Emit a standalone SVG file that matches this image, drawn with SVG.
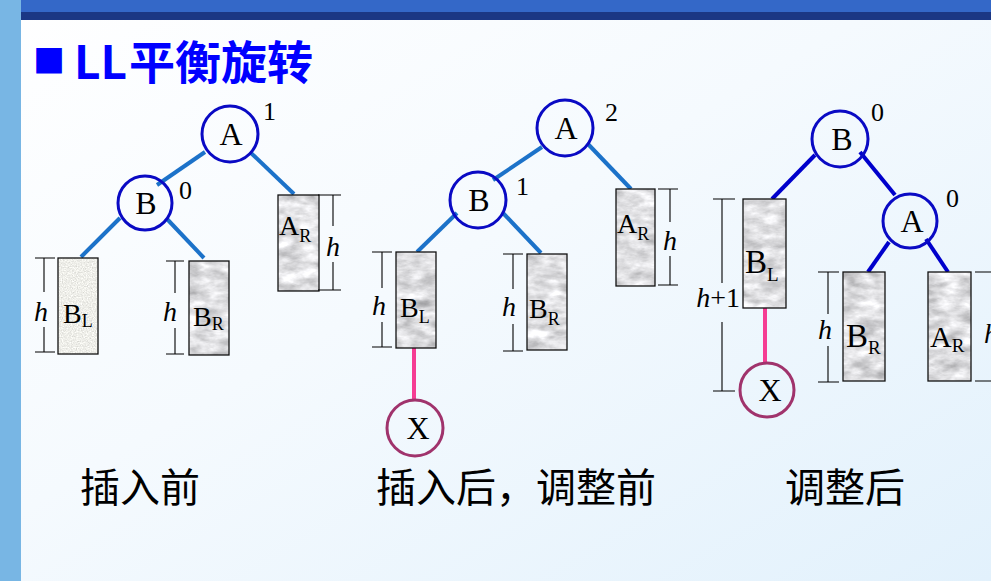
<svg xmlns="http://www.w3.org/2000/svg" width="991" height="581" viewBox="0 0 991 581">
<defs>
<linearGradient id="bg" x1="0" y1="0" x2="1" y2="1">
<stop offset="0" stop-color="#ffffff"/>
<stop offset="0.45" stop-color="#f5fafe"/>
<stop offset="1" stop-color="#e2f1fc"/>
</linearGradient>
<filter id="marble" x="0" y="0" width="1" height="1" color-interpolation-filters="sRGB">
<feTurbulence type="fractalNoise" baseFrequency="0.05 0.1" numOctaves="4" seed="4"/>
<feColorMatrix type="matrix" values="0.32 0.32 0.2 0 0.45  0.32 0.32 0.2 0 0.45  0.32 0.32 0.2 0 0.46  0 0 0 0 1"/>
<feComposite in2="SourceGraphic" operator="in"/>
</filter>
<filter id="speckle" x="0" y="0" width="1" height="1" color-interpolation-filters="sRGB">
<feTurbulence type="fractalNoise" baseFrequency="0.8" numOctaves="2" seed="9"/>
<feColorMatrix type="matrix" values="0.2 0.15 0.1 0 0.71  0.2 0.15 0.1 0 0.71  0.2 0.15 0.1 0 0.69  0 0 0 0 1"/>
<feComposite in2="SourceGraphic" operator="in"/>
</filter>
<style>
.node{fill:none;stroke:#0a0ac4;stroke-width:3}
.xnode{fill:none;stroke:#a0336c;stroke-width:3}
.lt{font-family:"Liberation Serif","Times New Roman",serif;fill:#000}
.big{font-size:32px}
.bf{font-size:26px}
.sub{font-size:28px}
.sub3{font-size:33px}
.s{font-size:18px}
.s3{font-size:19px}
.hh{font-family:"Liberation Serif","Times New Roman",serif;font-style:italic;font-size:28px;fill:#000}
.tex{fill:#ddd;filter:url(#marble)}
.spk{fill:#eee;filter:url(#speckle)}
.box{fill:none;stroke:#111;stroke-width:1.3}
.dim{stroke:#000;stroke-width:1.1;fill:none}
.e1{stroke:#1c72c9;stroke-width:4;fill:none}
.e3{stroke:#0000cc;stroke-width:4;fill:none}
.ex{stroke:#f53c93;stroke-width:4;fill:none}
.cap{font-family:"Noto Sans CJK SC","Noto Sans CJK JP",sans-serif;font-size:40px;fill:#000}
.title{font-family:"Noto Sans CJK SC","Noto Sans CJK JP",sans-serif;font-size:46px;font-weight:bold;fill:#0000ff}
</style>
</defs>

<!-- background -->
<rect x="0" y="0" width="991" height="581" fill="url(#bg)"/>
<rect x="0" y="0" width="21" height="581" fill="#78b6e4"/>
<rect x="21" y="0" width="970" height="12" fill="#3468c8"/>
<rect x="21" y="12" width="970" height="8" fill="#1b3784"/>

<g id="title">
<text class="title" x="33" y="73" style="font-size:32px">■</text>
<text class="title" x="74" y="79">LL<tspan x="129">平衡旋转</tspan></text>
</g>

<!-- connectors -->
<g id="connectors">
<line class="e1" x1="205" y1="152" x2="157" y2="185"/>
<line class="e1" x1="250" y1="152" x2="294" y2="194"/>
<line class="e1" x1="120" y1="218" x2="81" y2="257"/>
<line class="e1" x1="167" y1="219" x2="204" y2="258"/>
<line class="e1" x1="542" y1="147" x2="493" y2="180"/>
<line class="e1" x1="587" y1="143" x2="631" y2="189"/>
<line class="e1" x1="457" y1="213" x2="417" y2="252"/>
<line class="e1" x1="503" y1="213" x2="541" y2="253"/>
<line class="ex" x1="414" y1="348" x2="414" y2="400"/>
<line class="e3" x1="815" y1="155" x2="772" y2="199"/>
<line class="e3" x1="860" y1="152" x2="895" y2="195"/>
<line class="e3" x1="889" y1="242" x2="868" y2="272"/>
<line class="e3" x1="926" y1="239" x2="948" y2="272"/>
<line class="ex" x1="765" y1="308" x2="765" y2="363"/>
</g>

<!-- Tree 1: before insertion -->
<g id="t1-A">
<circle class="node" cx="230" cy="134" r="28"/>
<text class="lt big" x="231" y="145" text-anchor="middle">A</text>
<text class="lt bf" x="263" y="120">1</text>
</g>
<g id="t1-B">
<circle class="node" cx="145" cy="203" r="27"/>
<text class="lt big" x="146" y="214" text-anchor="middle">B</text>
<text class="lt bf" x="179" y="199">0</text>
</g>
<g id="t1-BL">
<rect class="spk" x="58" y="258" width="40" height="96"/>
<rect class="box" x="58" y="258" width="40" height="96"/>
<text class="lt sub" x="63" y="323">B<tspan class="s" dy="4">L</tspan></text>
<path class="dim" d="M35 258H55M35 352H55M44 258V292M44 327V352"/>
<text class="hh" x="34" y="321">h</text>
</g>
<g id="t1-BR">
<rect class="tex" x="189" y="261" width="40" height="94"/>
<rect class="box" x="189" y="261" width="40" height="94"/>
<text class="lt sub" x="193" y="326">B<tspan class="s" dy="4">R</tspan></text>
<path class="dim" d="M166 261H184M166 354H184M175 261V293M175 328V354"/>
<text class="hh" x="163" y="321">h</text>
</g>
<g id="t1-AR">
<rect class="tex" x="278" y="195" width="41" height="96"/>
<rect class="box" x="278" y="195" width="41" height="96"/>
<text class="lt sub" x="279" y="235">A<tspan class="s" dy="7">R</tspan></text>
<path class="dim" d="M318 195H341M318 290H341M333 195V226M333 262V290"/>
<text class="hh" x="326" y="256">h</text>
</g>

<!-- Tree 2: after insertion, before adjustment -->
<g id="t2-A">
<circle class="node" cx="565" cy="128" r="28"/>
<text class="lt big" x="566" y="139" text-anchor="middle">A</text>
<text class="lt bf" x="605" y="121">2</text>
</g>
<g id="t2-B">
<circle class="node" cx="478" cy="200" r="28"/>
<text class="lt big" x="479" y="211" text-anchor="middle">B</text>
<text class="lt bf" x="516" y="195">1</text>
</g>
<g id="t2-BL">
<rect class="tex" x="396" y="252" width="40" height="96"/>
<rect class="box" x="396" y="252" width="40" height="96"/>
<text class="lt sub" x="400" y="317">B<tspan class="s" dy="6">L</tspan></text>
<path class="dim" d="M372 252H392M372 347H392M382 252V288M382 322V347"/>
<text class="hh" x="372" y="315">h</text>
</g>
<g id="t2-BR">
<rect class="tex" x="527" y="254" width="40" height="96"/>
<rect class="box" x="527" y="254" width="40" height="96"/>
<text class="lt sub" x="529" y="318">B<tspan class="s" dy="7">R</tspan></text>
<path class="dim" d="M503 254H523M503 351H523M513 254V289M513 324V351"/>
<text class="hh" x="502" y="316">h</text>
</g>
<g id="t2-AR">
<rect class="tex" x="616" y="189" width="39" height="97"/>
<rect class="box" x="616" y="189" width="39" height="97"/>
<text class="lt sub" x="617" y="233">A<tspan class="s" dy="7">R</tspan></text>
<path class="dim" d="M658 189H678M658 285H678M670 189V222M670 256V285"/>
<text class="hh" x="663" y="250">h</text>
</g>
<g id="t2-X">
<circle class="xnode" cx="415" cy="428" r="28"/>
<text class="lt big" x="418" y="439" text-anchor="middle">X</text>
</g>

<!-- Tree 3: after adjustment -->
<g id="t3-B">
<circle class="node" cx="840" cy="139" r="28"/>
<text class="lt big" x="842" y="150" text-anchor="middle">B</text>
<text class="lt bf" x="871" y="121">0</text>
</g>
<g id="t3-A">
<circle class="node" cx="910" cy="221" r="27"/>
<text class="lt big" x="912" y="232" text-anchor="middle">A</text>
<text class="lt bf" x="946" y="207">0</text>
</g>
<g id="t3-BL">
<rect class="tex" x="743" y="199" width="43" height="109"/>
<rect class="box" x="743" y="199" width="43" height="109"/>
<text class="lt sub3" x="745" y="273">B<tspan class="s3" dy="8">L</tspan></text>
<path class="dim" d="M713 199H735M713 391H735M722 199V283M722 322V391"/>
<text class="lt" x="740" y="307" text-anchor="end" font-size="28"><tspan font-style="italic">h</tspan>+1</text>
</g>
<g id="t3-BR">
<rect class="tex" x="843" y="272" width="42" height="109"/>
<rect class="box" x="843" y="272" width="42" height="109"/>
<text class="lt sub3" x="846" y="347">B<tspan class="s3" dy="7">R</tspan></text>
<path class="dim" d="M818 272H839M818 382H839M828 272V314M828 346V382"/>
<text class="hh" x="818" y="339">h</text>
</g>
<g id="t3-AR">
<rect class="tex" x="928" y="272" width="43" height="109"/>
<rect class="box" x="928" y="272" width="43" height="109"/>
<text class="lt" x="930" y="347" font-size="30">A<tspan class="s3" dy="5">R</tspan></text>
<path class="dim" d="M975 272H991M975 381H991"/>
<text class="hh" x="984" y="343">h</text>
</g>
<g id="t3-X">
<circle class="xnode" cx="767" cy="390" r="27"/>
<text class="lt big" x="770" y="401" text-anchor="middle">X</text>
</g>

<!-- captions -->
<g id="captions">
<text class="cap" x="80" y="502">插入前</text>
<text class="cap" x="376" y="502">插入后，调整前</text>
<text class="cap" x="785" y="502">调整后</text>
</g>
</svg>
